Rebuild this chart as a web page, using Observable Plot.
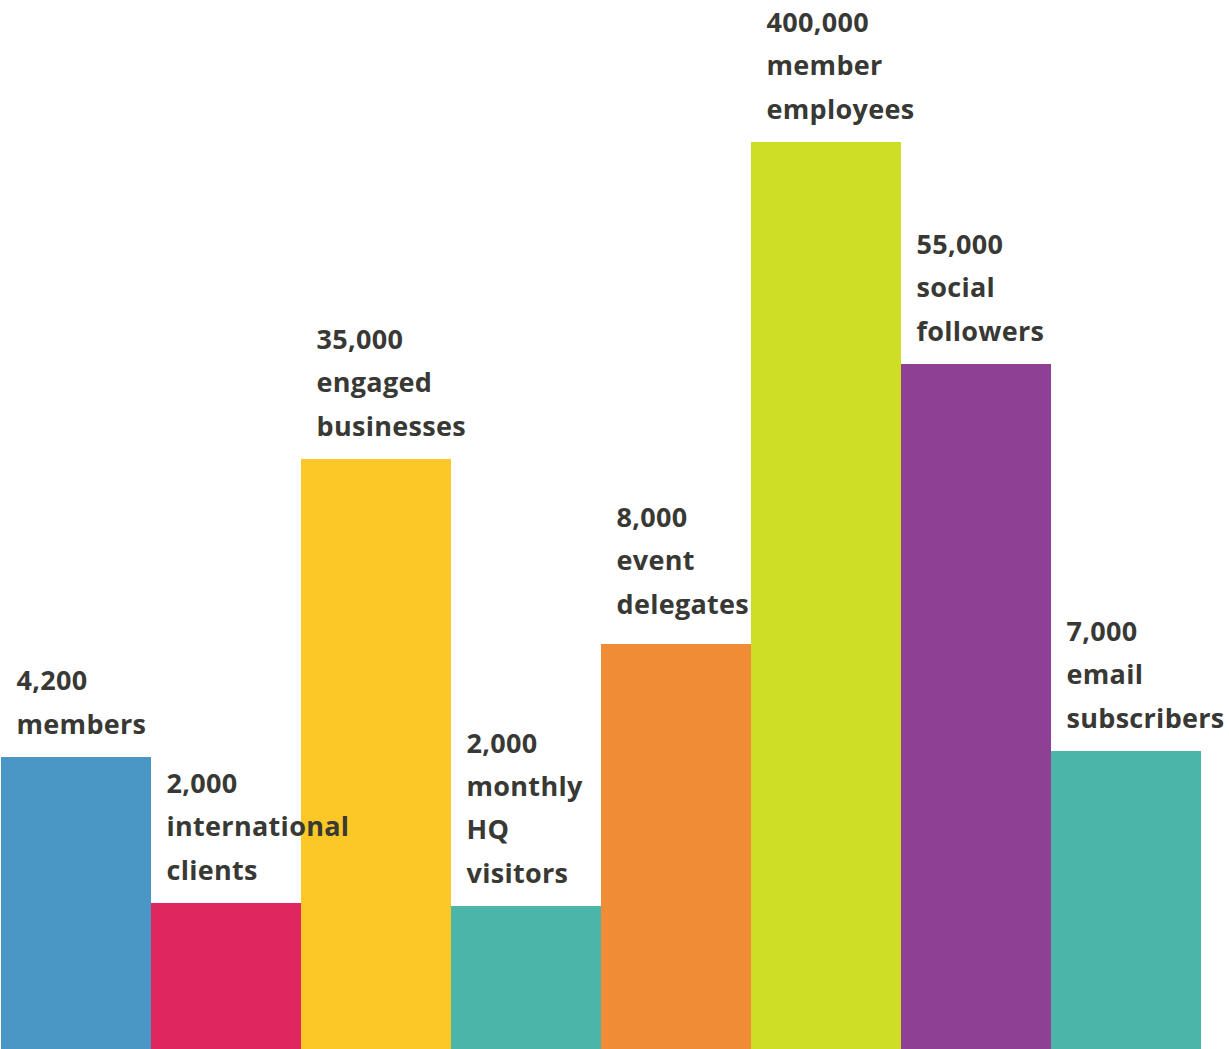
<!DOCTYPE html>
<html>
<head>
<meta charset="utf-8">
<script src="https://cdn.jsdelivr.net/npm/d3@7"></script>
<script src="https://cdn.jsdelivr.net/npm/@observablehq/plot@0.6"></script>
<style>
  html, body { margin: 0; padding: 0; background: #fff; }
  #chart svg { display: block; overflow: visible; }
  #chart text { letter-spacing: 0.3px; }
</style>
</head>
<body>
<div id="chart"></div>
<script>
const categories = ["members", "clients", "businesses", "visitors", "delegates", "employees", "followers", "subscribers"];
const figures = ["4,200", "2,000", "35,000", "2,000", "8,000", "400,000", "55,000", "7,000"];
const descriptions = ["members", "international\nclients", "engaged\nbusinesses", "monthly\nHQ\nvisitors", "event\ndelegates", "member\nemployees", "social\nfollowers", "email\nsubscribers"];
// visual bar heights as drawn (infographic, not proportional to figures)
const barHeights = [292, 146, 590, 143, 405, 907, 685, 298];
const colors = ["#4A96C4", "#E0265F", "#FBC827", "#4AB5A8", "#F08C36", "#CEDD26", "#8E4194", "#4AB5A8"];

const data = categories.map((c, i) => ({
  cat: c,
  h: barHeights[i],
  label: figures[i] + "\n" + descriptions[i],
  color: colors[i]
}));

const textOpts = {
  x: "cat", y: "h", text: "label",
  frameAnchor: "left",
  textAnchor: "start",
  lineAnchor: "bottom",
  lineHeight: 1.6,
  dx: -60,
  fontSize: 27, fontWeight: 700,
  fill: "#383835"
};

const chart = Plot.plot({
  width: 1229,
  height: 1049,
  marginTop: 0,
  marginBottom: 0,
  marginLeft: 0,
  marginRight: 27,
  x: {domain: categories, padding: 0, axis: null},
  y: {domain: [0, 1049], axis: null},
  style: {fontFamily: "'Open Sans', sans-serif", background: "#fff"},
  marks: [
    Plot.barY(data, {x: "cat", y: "h", fill: "color", inset: 0}),
    Plot.text(data, {...textOpts, filter: (d) => d.cat !== "delegates", dy: -24}),
    Plot.text(data, {...textOpts, filter: (d) => d.cat === "delegates", dy: -31})
  ]
});
document.getElementById("chart").appendChild(chart);
</script>
</body>
</html>
